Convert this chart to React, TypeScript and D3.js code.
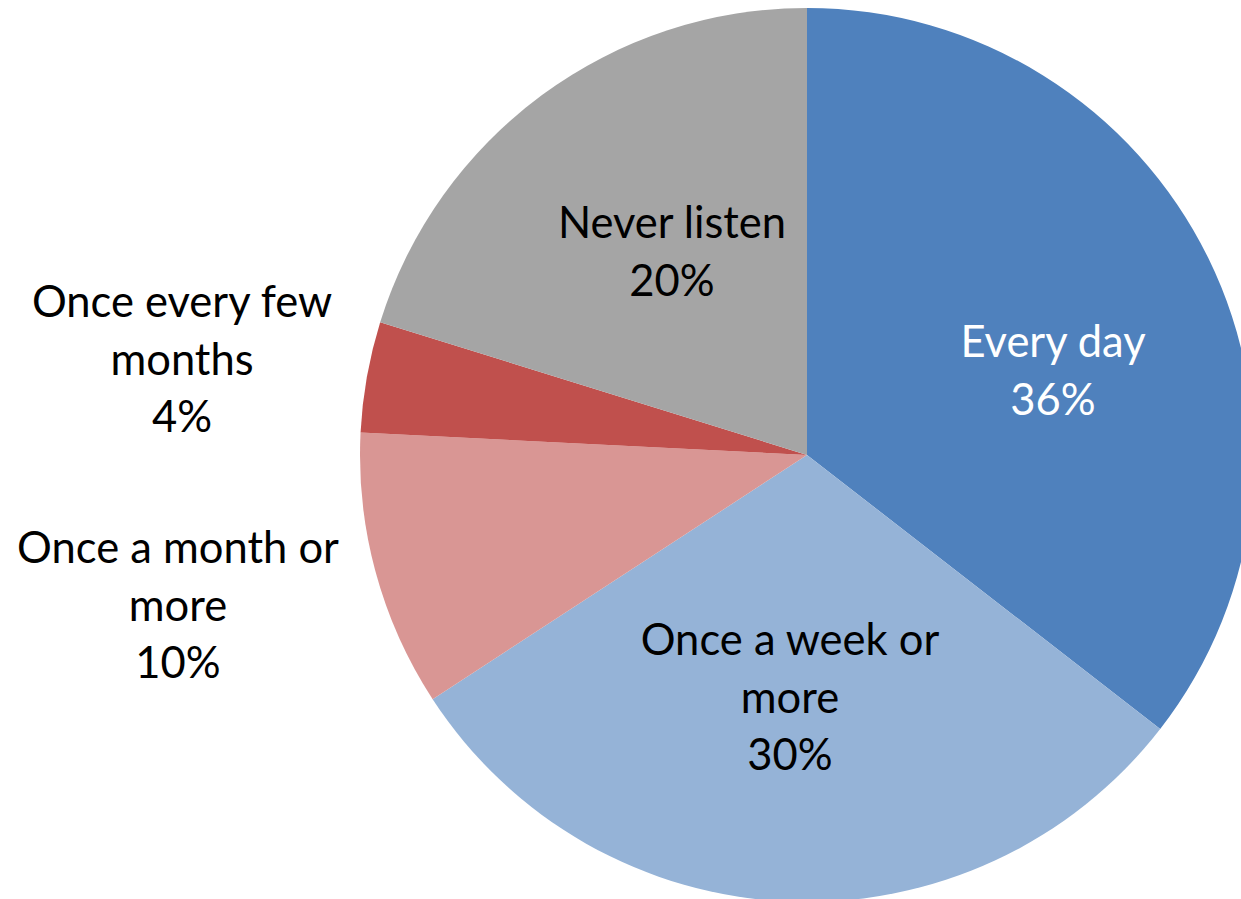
import React from "react";
import * as d3 from "d3";

const categories = ["Every day", "Once a week or more", "Once a month or more", "Once every few months", "Never listen"];
const values = [35.5, 30.3, 10.0, 4.0, 20.2];
const percentLabels = ["36%", "30%", "10%", "4%", "20%"];
const labelLines = [
  ["Every day"],
  ["Once a week or", "more"],
  ["Once a month or", "more"],
  ["Once every few", "months"],
  ["Never listen"],
];
const colors = ["#4F81BD", "#95B3D7", "#D99694", "#C0504D", "#A5A5A5"];
const textColors = ["#ffffff", "#000000", "#000000", "#000000", "#000000"];

// label layout (center x offset from pie center, first baseline y offset)
const labelLayout = [
  { dx: 246, dy: -98 },
  { dx: -17, dy: 200 },
  { dx: -629, dy: 108 },
  { dx: -625, dy: -138 },
  { dx: -135, dy: -217 },
];

const W = 1241;
const H = 899;
const cx = 807;
const cy = 455;
const R = 447;
const lineH = 57.5;
const fontSize = 43.5;

export default function App() {
  const pie = d3.pie<number>().sort(null).value((d) => d);
  const arcs = pie(values);
  const arcGen = d3.arc<d3.PieArcDatum<number>>().innerRadius(0).outerRadius(R);

  return (
    <svg width={W} height={H} style={{ position: "absolute", left: 0, top: 0, background: "#fff" }}>
      <g transform={`translate(${cx},${cy})`}>
        {arcs.map((a, i) => (
          <path key={categories[i]} d={arcGen(a) || ""} fill={colors[i]} />
        ))}
        {arcs.map((a, i) => {
          const lines = [...labelLines[i], percentLabels[i]];
          const L = labelLayout[i];
          return (
            <text
              key={"t" + i}
              x={L.dx}
              y={L.dy}
              textAnchor="middle"
              fontFamily="Lato, 'Open Sans', sans-serif"
              fontSize={fontSize}
              fill={textColors[i]}
            >
              {lines.map((ln, j) => (
                <tspan key={j} x={L.dx} dy={j === 0 ? 0 : lineH}>
                  {ln}
                </tspan>
              ))}
            </text>
          );
        })}
      </g>
    </svg>
  );
}
